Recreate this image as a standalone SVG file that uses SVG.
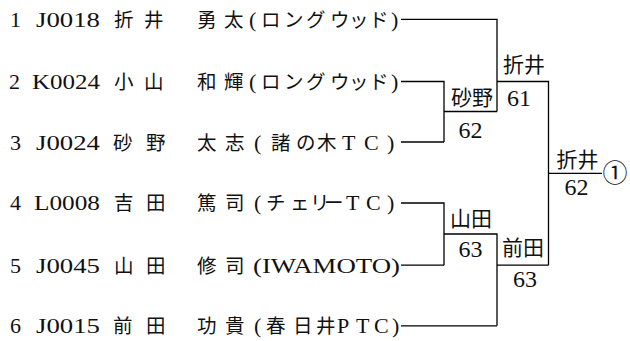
<svg xmlns="http://www.w3.org/2000/svg" width="630" height="341" viewBox="0 0 630 341">
<style>
text{fill:#111;}
.lat{font-family:"Liberation Serif","Tinos","DejaVu Serif","Times New Roman","Noto Sans CJK JP",serif;font-size:22px;}
.cjk{font-family:"Noto Sans CJK JP","Noto Sans CJK SC",sans-serif;font-size:19.5px;}
.lab{font-family:"Noto Sans CJK JP","Noto Sans CJK SC",sans-serif;font-size:21px;text-anchor:middle;}
.num{font-family:"Liberation Serif","Tinos","DejaVu Serif","Times New Roman",serif;font-size:24px;text-anchor:middle;}
.rank{font-family:"Noto Sans CJK JP","Noto Sans CJK SC",sans-serif;font-size:25px;text-anchor:middle;}
#connectors path{fill:none;stroke:#000;stroke-width:1.3;}
</style>
<rect width="630" height="341" fill="#fff"/>
<g id="connectors">
<path d="M401 19.4H497V111.5"/>
<path d="M401 81.5H444V142"/>
<path d="M401 142H444"/>
<path d="M444 111.5H497"/>
<path d="M497 81.5H548.5V265.2"/>
<path d="M401 203H444V265.2"/>
<path d="M401 265.2H444"/>
<path d="M444 234H497V325.8"/>
<path d="M401 325.8H497"/>
<path d="M497 265.2H548.5"/>
<path d="M548.5 173.3H602"/>
</g>
<g id="p1">
<text class="lat" x="10" y="26.8">1</text>
<text class="lat" x="36" y="26.8" textLength="64" lengthAdjust="spacingAndGlyphs">J0018</text>
<text class="cjk" x="114 144 197 224" y="26.8">折井勇太</text>
<text class="cjk" y="26.8"><tspan class="lat" x="249">(</tspan><tspan x="261 284 306 330 349 369">ロングウッド</tspan><tspan class="lat" x="391">)</tspan></text>
</g>
<g id="p2">
<text class="lat" x="9" y="88.9">2</text>
<text class="lat" x="32" y="88.9" textLength="68" lengthAdjust="spacingAndGlyphs">K0024</text>
<text class="cjk" x="114 144 197 224" y="88.9">小山和輝</text>
<text class="cjk" y="88.9"><tspan class="lat" x="249">(</tspan><tspan x="261 284 306 330 349 369">ロングウッド</tspan><tspan class="lat" x="391">)</tspan></text>
</g>
<g id="p3">
<text class="lat" x="10" y="149.5">3</text>
<text class="lat" x="36" y="149.5" textLength="64" lengthAdjust="spacingAndGlyphs">J0024</text>
<text class="cjk" x="113 146 197 225" y="149.5">砂野太志</text>
<text class="cjk" y="149.5"><tspan class="lat" x="254">(</tspan><tspan x="271 296 317">諸の木</tspan><tspan class="lat" x="342 364 387">TC)</tspan></text>
</g>
<g id="p4">
<text class="lat" x="10" y="210.4">4</text>
<text class="lat" x="34" y="210.4" textLength="66" lengthAdjust="spacingAndGlyphs">L0008</text>
<text class="cjk" x="114 146 197 225" y="210.4">吉田篤司</text>
<text class="cjk" y="210.4"><tspan class="lat" x="254">(</tspan><tspan x="266 290 310 324">チェリー</tspan><tspan class="lat" x="346 366 387">TC)</tspan></text>
</g>
<g id="p5">
<text class="lat" x="10" y="272.6">5</text>
<text class="lat" x="36" y="272.6" textLength="64" lengthAdjust="spacingAndGlyphs">J0045</text>
<text class="cjk" x="114 146 197 225" y="272.6">山田修司</text>
<text class="lat" x="253" y="272.6" textLength="147" lengthAdjust="spacingAndGlyphs">(IWAMOTO)</text>
</g>
<g id="p6">
<text class="lat" x="10" y="333.1">6</text>
<text class="lat" x="36" y="333.1" textLength="64" lengthAdjust="spacingAndGlyphs">J0015</text>
<text class="cjk" x="113 146 197 225" y="333.1">前田功貴</text>
<text class="cjk" y="333.1"><tspan class="lat" x="254">(</tspan><tspan x="266 293 316">春日井</tspan><tspan class="lat" x="337 356 374 392">PTC)</tspan></text>
</g>
<g id="m1">
<text class="lab" x="472" y="105">砂野</text>
<text class="num" x="470.5" y="138">62</text>
</g>
<g id="m2">
<text class="lab" x="471" y="226">山田</text>
<text class="num" x="470.5" y="256.5">63</text>
</g>
<g id="m3">
<text class="lab" x="524" y="72">折井</text>
<text class="num" x="519" y="106">61</text>
</g>
<g id="m4">
<text class="lab" x="523" y="255">前田</text>
<text class="num" x="525" y="286.5">63</text>
</g>
<g id="m5">
<text class="lab" x="577.5" y="166.5">折井</text>
<text class="num" x="576.5" y="195">62</text>
</g>
<g id="result">
<text class="rank" x="615" y="182">①</text>
</g>
</svg>
